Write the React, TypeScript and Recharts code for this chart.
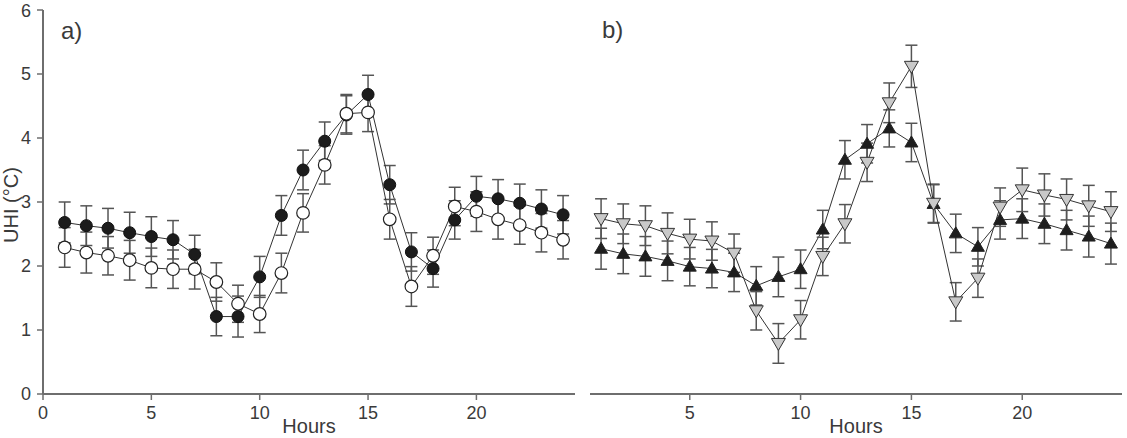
import { LineChart, Line, XAxis, YAxis, ErrorBar } from "recharts";

const hours = [1, 2, 3, 4, 5, 6, 7, 8, 9, 10, 11, 12, 13, 14, 15, 16, 17, 18, 19, 20, 21, 22, 23, 24];

// panel a
const aFilled = [2.68, 2.63, 2.59, 2.52, 2.46, 2.41, 2.18, 1.21, 1.21, 1.83, 2.79, 3.5, 3.95, 4.36, 4.68, 3.27, 2.22, 1.96, 2.72, 3.09, 3.05, 2.98, 2.89, 2.8];
const aFilledErr = [0.32, 0.31, 0.31, 0.32, 0.31, 0.3, 0.3, 0.3, 0.32, 0.32, 0.31, 0.31, 0.3, 0.3, 0.3, 0.3, 0.3, 0.29, 0.3, 0.31, 0.3, 0.3, 0.3, 0.3];
const aOpen = [2.29, 2.21, 2.16, 2.09, 1.97, 1.95, 1.95, 1.75, 1.41, 1.25, 1.89, 2.83, 3.58, 4.38, 4.4, 2.73, 1.68, 2.16, 2.93, 2.85, 2.73, 2.64, 2.52, 2.41];
const aOpenErr = [0.31, 0.32, 0.3, 0.31, 0.31, 0.3, 0.31, 0.3, 0.29, 0.29, 0.31, 0.3, 0.3, 0.3, 0.3, 0.31, 0.31, 0.29, 0.3, 0.31, 0.31, 0.3, 0.3, 0.3];

// panel b
const bUp = [2.27, 2.19, 2.15, 2.08, 1.99, 1.96, 1.9, 1.69, 1.83, 1.95, 2.57, 3.66, 3.91, 4.15, 3.93, 2.97, 2.51, 2.3, 2.72, 2.74, 2.66, 2.56, 2.46, 2.35];
const bUpErr = [0.32, 0.31, 0.31, 0.31, 0.3, 0.3, 0.3, 0.3, 0.31, 0.3, 0.3, 0.3, 0.3, 0.29, 0.3, 0.3, 0.3, 0.3, 0.3, 0.31, 0.31, 0.31, 0.32, 0.32];
const bDown = [2.74, 2.66, 2.63, 2.51, 2.42, 2.39, 2.2, 1.3, 0.79, 1.16, 2.15, 2.66, 3.62, 4.55, 5.12, 2.98, 1.44, 1.81, 2.92, 3.19, 3.11, 3.04, 2.94, 2.85];
const bDownErr = [0.31, 0.31, 0.31, 0.32, 0.31, 0.3, 0.3, 0.3, 0.31, 0.3, 0.3, 0.3, 0.3, 0.31, 0.33, 0.3, 0.3, 0.3, 0.3, 0.34, 0.33, 0.32, 0.32, 0.31];

const yTicks = [0, 1, 2, 3, 4, 5, 6];
const xTicksA = [0, 5, 10, 15, 20];
const xTicksB = [5, 10, 15, 20];

const dataA = hours.map((h, i) => ({ h, f: aFilled[i], fe: aFilledErr[i], o: aOpen[i], oe: aOpenErr[i] }));
const dataB = hours.map((h, i) => ({ h, u: bUp[i], ue: bUpErr[i], d: bDown[i], de: bDownErr[i] }));

const frame = "#6e6e6e";
const ink = "#3a3a3a";
const font = "'Liberation Sans', Arial, sans-serif";
const tickStyle = { fontSize: 18, fill: ink, fontFamily: font };
const axisLine = { stroke: frame, strokeWidth: 2 };
const tickLine = { stroke: frame, strokeWidth: 1.5 };
const hoursLabel = { value: "Hours", position: "insideBottom" as const, offset: 5, fill: ink, fontSize: 20, fontFamily: font };

const filledDot = (p: any) => (
  <circle key={p.index} cx={p.cx} cy={p.cy} r={6} fill="#1c1c1c" stroke="#111" strokeWidth={1} />
);
const openDot = (p: any) => (
  <circle key={p.index} cx={p.cx} cy={p.cy} r={6.3} fill="#fff" stroke="#222" strokeWidth={1.2} />
);
const upDot = (p: any) => (
  <path
    key={p.index}
    d={`M${p.cx},${p.cy - 6.5}L${p.cx + 6.5},${p.cy + 4.5}L${p.cx - 6.5},${p.cy + 4.5}Z`}
    fill="#1e1e1e"
    stroke="#222"
    strokeWidth={1}
  />
);
const downDot = (p: any) => (
  <path
    key={p.index}
    d={`M${p.cx - 7},${p.cy - 5}L${p.cx + 7},${p.cy - 5}L${p.cx},${p.cy + 7}Z`}
    fill="#c9c9c9"
    stroke="#333"
    strokeWidth={1}
  />
);

const errProps = { width: 6, stroke: "#555", strokeWidth: 1.5, direction: "y" as const, isAnimationActive: false };

function PanelA() {
  const dom = [0, 24.55];
  return (
    <LineChart width={580} height={438} data={dataA} margin={{ top: 10, right: 5, bottom: 0, left: 0 }}>
      <XAxis dataKey="h" type="number" domain={dom} allowDataOverflow ticks={xTicksA} tick={tickStyle}
        axisLine={axisLine} tickLine={tickLine} tickSize={6} tickMargin={6} height={44} label={hoursLabel} />
      <XAxis xAxisId="top" orientation="top" type="number" domain={dom} allowDataOverflow tick={false}
        tickLine={false} axisLine={axisLine} height={0} />
      <YAxis type="number" domain={[0, 6]} ticks={yTicks} tick={tickStyle} axisLine={axisLine}
        tickLine={tickLine} tickSize={6} tickMargin={6} width={43}
        label={{
          content: () => (
            <text x={18} y={205} transform="rotate(-90 18 205)" textAnchor="middle" fontSize={20} fill={ink} fontFamily={font}>
              UHI (°C)
            </text>
          ),
        }} />
      <YAxis yAxisId="right" orientation="right" domain={[0, 6]} tick={false} tickLine={false} axisLine={axisLine} width={0} />
      <Line dataKey="f" stroke="#333" strokeWidth={1} dot={filledDot} activeDot={false} isAnimationActive={false}>
        <ErrorBar dataKey="fe" {...errProps} />
      </Line>
      <Line dataKey="o" stroke="#333" strokeWidth={1} dot={openDot} activeDot={false} isAnimationActive={false}>
        <ErrorBar dataKey="oe" {...errProps} />
      </Line>
    </LineChart>
  );
}

function PanelB() {
  const dom = [0.5, 24.5];
  return (
    <LineChart width={547} height={438} data={dataB} margin={{ top: 10, right: 5, bottom: 0, left: 10 }}>
      <XAxis dataKey="h" type="number" domain={dom} allowDataOverflow ticks={xTicksB} tick={tickStyle}
        axisLine={axisLine} tickLine={tickLine} tickSize={6} tickMargin={6} height={44} label={hoursLabel} />
      <XAxis xAxisId="top" orientation="top" type="number" domain={dom} allowDataOverflow tick={false}
        tickLine={false} axisLine={axisLine} height={0} />
      <YAxis type="number" domain={[0, 6]} tick={false} tickLine={false} axisLine={axisLine} width={0} />
      <YAxis yAxisId="right" orientation="right" domain={[0, 6]} tick={false} tickLine={false} axisLine={axisLine} width={0} />
      <Line dataKey="u" stroke="#333" strokeWidth={1} dot={upDot} activeDot={false} isAnimationActive={false}>
        <ErrorBar dataKey="ue" {...errProps} />
      </Line>
      <Line dataKey="d" stroke="#333" strokeWidth={1} dot={downDot} activeDot={false} isAnimationActive={false}>
        <ErrorBar dataKey="de" {...errProps} />
      </Line>
    </LineChart>
  );
}

export default function App() {
  const tag = { position: "absolute" as const, fontSize: 24, lineHeight: "24px", color: ink, fontFamily: font };
  return (
    <div style={{ position: "absolute", left: 0, top: 0, width: 1127, height: 438, background: "#fff", overflow: "hidden" }}>
      <div style={{ position: "absolute", left: 0, top: 0 }}>
        <PanelA />
      </div>
      <div style={{ position: "absolute", left: 580, top: 0 }}>
        <PanelB />
      </div>
      <div style={{ ...tag, left: 61, top: 19 }}>a)</div>
      <div style={{ ...tag, left: 602, top: 18 }}>b)</div>
    </div>
  );
}
